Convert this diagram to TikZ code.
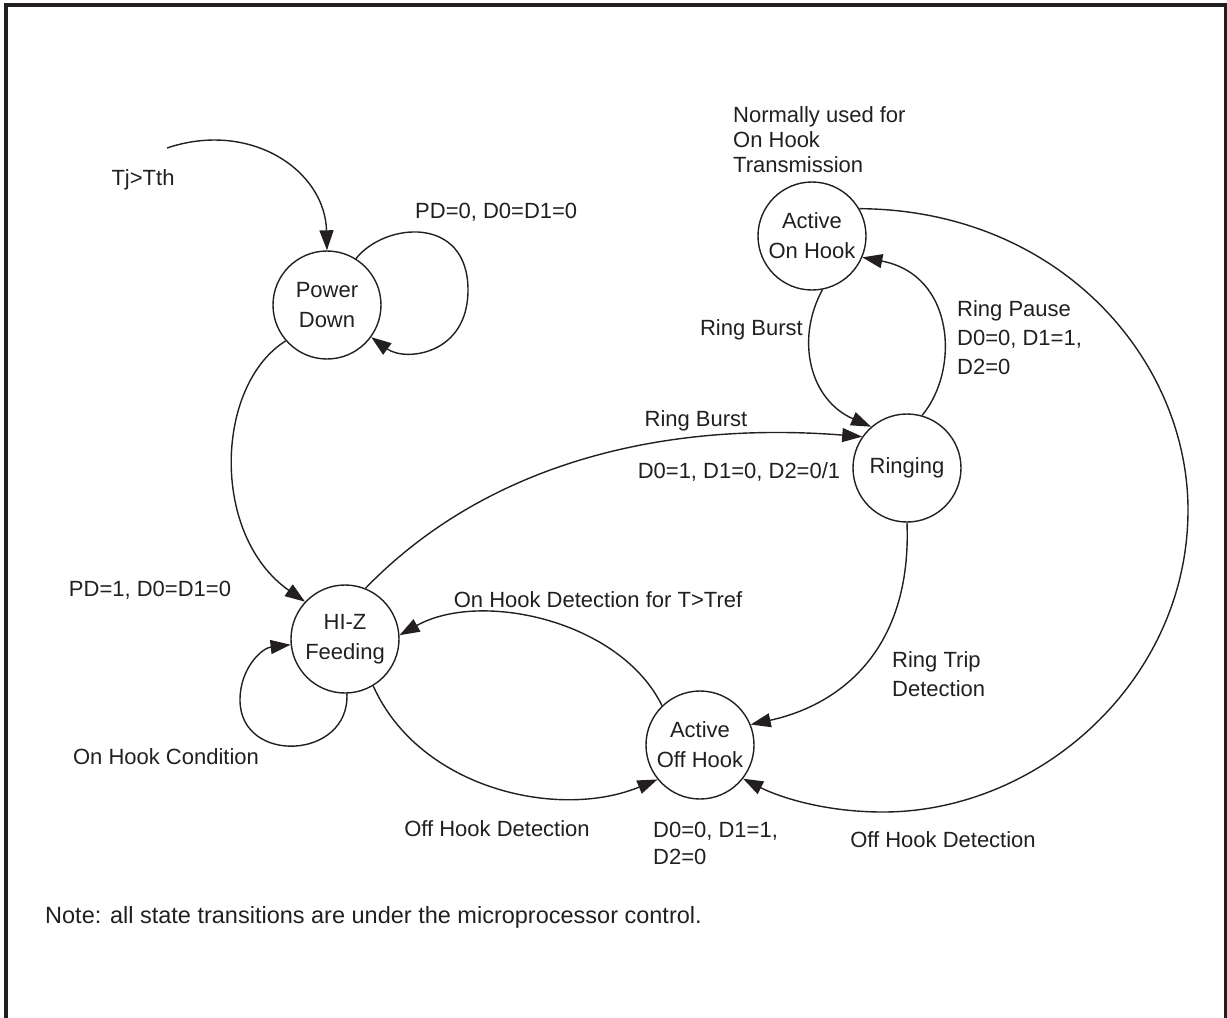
\documentclass[tikz,border=0pt]{standalone}
\usepackage{fontspec}
\setmainfont{Liberation Sans}
\usetikzlibrary{arrows.meta}
\definecolor{ink}{RGB}{35,31,32}
\begin{document}
\begin{tikzpicture}[x=1pt,y=-1pt,
  state/.style={circle,draw=ink,line width=1.4pt,minimum size=108pt,inner sep=0pt,align=center,font=\fontsize{22}{30}\selectfont,text=ink},
  lbl/.style={align=left,inner sep=0pt,font=\fontsize{22}{29}\selectfont,text=ink},
  tr/.style={draw=ink,line width=1.4pt,-{Triangle[length=20pt,width=14pt]}}]
\useasboundingbox (0,0) rectangle (1227,1018);
% frame
\draw[ink,line width=4pt] (6,1018) -- (6,5) -- (1227,5);
\draw[ink,line width=2.5pt] (1225.5,5) -- (1225.5,1018);
% states
\node[state] (pd) at (327,305) {Power\\Down};
\node[state] (hz) at (345,639) {HI-Z\\Feeding};
\node[state] (on) at (812,236) {Active\\On Hook};
\node[state] (rg) at (907,468) {Ringing};
\node[state] (off) at (700,745) {Active\\Off Hook};
% transitions
\coordinate (src) at (167,148);
\draw[tr] (src) .. controls (250,120) and (325,170) .. (pd.north);
\draw[tr] (pd.58) .. controls (385,222) and (468,215) .. (468,290) .. controls (468,355) and (405,362) .. (pd.-36);
\draw[tr] (pd.221) .. controls (215,385) and (210,535) .. (hz.137);
\draw[tr] (hz.272) .. controls (350,760) and (240,765) .. (240,700) .. controls (240,668) and (262,648) .. (hz.186);
\draw[tr] (hz.68) .. controls (480,470) and (650,420) .. (rg.145);
\draw[tr] (on.281) .. controls (795,340) and (810,400) .. (rg.131);
\draw[tr] (rg.74) .. controls (960,370) and (955,275) .. (on.337);
\draw[tr] (on.30) .. controls (1060,210) and (1188,360) .. (1188,510) .. controls (1188,680) and (1040,812) .. (883,812) .. controls (820,812) and (775,795) .. (off.322);
\draw[tr] (rg.270) .. controls (912,650) and (840,705) .. (off.22);
\draw[tr] (off.134) .. controls (620,620) and (480,590) .. (hz.4);
\draw[tr] (hz.301) .. controls (420,790) and (560,820) .. (off.219);
% labels
\node[lbl] (l1) at (143,180) {Tj>Tth};
\node[lbl,anchor=west] (l2) at (415,212) {PD=0, D0=D1=0};
\node[lbl,anchor=west,font=\fontsize{22}{25}\selectfont] (l3) at (733,140) {Normally used for\\On Hook\\Transmission};
\node[lbl,anchor=east] (l4) at (803,330) {Ring Burst};
\node[lbl,anchor=west] (l5) at (957,338) {Ring Pause\\D0=0, D1=1,\\D2=0};
\node[lbl] (l6) at (696,421) {Ring Burst};
\node[lbl] (l7) at (739,472) {D0=1, D1=0, D2=0/1};
\node[lbl] (l8) at (150,590) {PD=1, D0=D1=0};
\node[lbl] (l9) at (598,600) {On Hook Detection for T>Tref};
\node[lbl,anchor=west] (l10) at (892,674) {Ring Trip\\Detection};
\node[lbl] (l11) at (166,757) {On Hook Condition};
\node[lbl] (l12) at (497,829) {Off Hook Detection};
\node[lbl,anchor=west,font=\fontsize{22}{27}\selectfont] (l13) at (653,843) {D0=0, D1=1,\\D2=0};
\node[lbl] (l14) at (943,840) {Off Hook Detection};
\node[lbl,anchor=west,font=\fontsize{23.5}{29}\selectfont] (l15) at (45,917) {Note: all state transitions are under the microprocessor control.};
\end{tikzpicture}
\end{document}
